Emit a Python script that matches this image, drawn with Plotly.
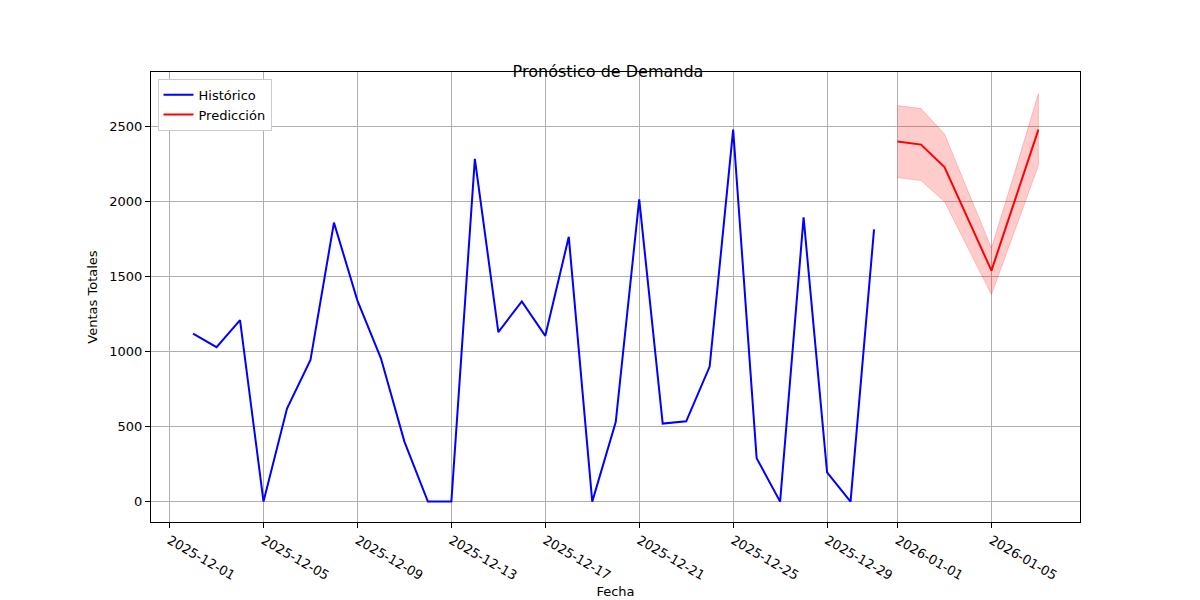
import plotly.graph_objects as go
import pandas as pd

hist_dates = pd.date_range("2025-12-02", "2025-12-31", freq="D")
hist_vals = [1120, 1030, 1210, 0, 620, 945, 1860, 1340, 955, 400, 0, 0, 2285, 1130, 1335,
             1105, 1765, 0, 530, 2015, 520, 535, 900, 2480, 290, 0, 1895, 195, 0, 1815]

pred_dates = pd.date_range("2026-01-01", "2026-01-07", freq="D")
pred_vals = [2400, 2380, 2230, 1885, 1540, 2010, 2480]
pred_upper = [2640, 2620, 2450, 2070, 1690, 2200, 2720]
pred_lower = [2160, 2140, 2000, 1690, 1380, 1810, 2240]

tick_labels = ["2025-12-01", "2025-12-05", "2025-12-09", "2025-12-13", "2025-12-17",
               "2025-12-21", "2025-12-25", "2025-12-29", "2026-01-01", "2026-01-05"]

fig = go.Figure()
fig.add_trace(go.Scatter(x=list(pred_dates) + list(pred_dates[::-1]),
                         y=pred_upper + pred_lower[::-1], fill="toself", mode="lines",
                         fillcolor="rgba(255,0,0,0.2)", line=dict(color="rgba(255,0,0,0.2)", width=1),
                         showlegend=False, hoverinfo="skip"))
fig.add_trace(go.Scatter(x=hist_dates, y=hist_vals, mode="lines", name="Histórico",
                         line=dict(color="blue", width=2)))
fig.add_trace(go.Scatter(x=pred_dates, y=pred_vals, mode="lines", name="Predicción",
                         line=dict(color="red", width=2)))

axis = dict(showline=True, linecolor="black", mirror=True, showgrid=True, gridcolor="#b0b0b0",
            ticks="outside", tickcolor="black", zeroline=False, title_font=dict(size=13))
fig.update_layout(
    width=1200, height=600, plot_bgcolor="white", paper_bgcolor="white",
    font=dict(family="DejaVu Sans", size=13, color="black"),
    title=dict(text="Pronóstico de Demanda", x=0.5, y=0.903, xanchor="center", font=dict(size=16)),
    margin=dict(l=143, r=128, t=64, b=74),
    legend=dict(x=0.007, y=0.985, xanchor="left", yanchor="top", bordercolor="#cccccc",
                borderwidth=1, bgcolor="white"),
    xaxis=dict(axis, title=dict(text="Fecha", standoff=4), range=["2025-11-30 05:00", "2026-01-08 18:30"],
               tickvals=tick_labels, ticktext=tick_labels),
    yaxis=dict(axis, title=dict(text="Ventas Totales", standoff=8), range=[-136, 2864],
               tickvals=[0, 500, 1000, 1500, 2000, 2500]),
)
fig.write_html("out.html")
